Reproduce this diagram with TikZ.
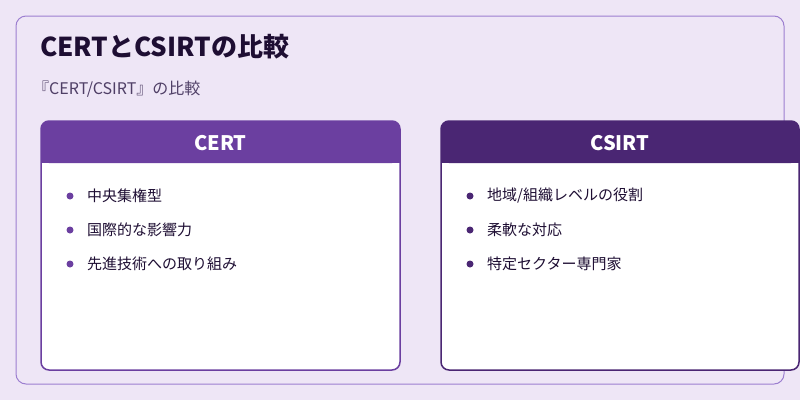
\documentclass[tikz,border=0pt]{standalone}
\usepackage{fontspec}
\setmainfont{Noto Sans CJK JP}
\usetikzlibrary{positioning}
\definecolor{bgpurple}{HTML}{EEE6F6}
\definecolor{framepurple}{HTML}{9C7FD0}
\definecolor{certpurple}{HTML}{6B3FA0}
\definecolor{csirtpurple}{HTML}{4A2673}
\definecolor{titleink}{HTML}{1E0E33}
\definecolor{subink}{HTML}{4F3F66}
\tikzset{
  card/.style={draw=#1, line width=1.5pt, fill=white, rounded corners=8pt},
  item/.style={anchor=west, font=\fontsize{15}{18}\selectfont, text=titleink, inner sep=0pt},
  dot/.style={circle, fill=#1, inner sep=0pt, minimum size=7pt}
}
\begin{document}
\begin{tikzpicture}[x=1pt,y=-1pt]
  \useasboundingbox (0,0) rectangle (800,400);
  \fill[bgpurple] (0,0) rectangle (800,400);
  \draw[framepurple, line width=1pt, rounded corners=10pt] (16,16) rectangle (784,384);
  \node (title) [anchor=west, inner sep=0pt, text=titleink, font=\bfseries\fontsize{26}{30}\selectfont] at (40,47) {CERTとCSIRTの比較};
  \node (subtitle) [anchor=west, inner sep=0pt, text=subink, font=\fontsize{16}{19}\selectfont] at (33,89) {『CERT/CSIRT』の比較};
  % left card
  \draw[card=certpurple] (41,121) rectangle (400,370);
  \fill[certpurple, rounded corners=8pt] (41,163) -- (41,121) -- (400,121) -- (400,163) -- cycle;
  \fill[certpurple] (41,150) rectangle (400,163);
  \node (cert) [text=white, font=\bfseries\fontsize{20}{24}\selectfont] at (220.5,143) {CERT};
  \foreach \y/\t [count=\i] in {196/中央集権型, 230/国際的な影響力, 264/先進技術への取り組み} {
    \node (certdot\i) [dot=certpurple] at (70,\y) {};
    \node (certitem\i) [item] at (87,\y) {\t};
  }
  % right card
  \draw[card=csirtpurple] (441,121) rectangle (799,370);
  \fill[csirtpurple, rounded corners=8pt] (441,163) -- (441,121) -- (799,121) -- (799,163) -- cycle;
  \fill[csirtpurple] (441,150) rectangle (799,163);
  \node (csirt) [text=white, font=\bfseries\fontsize{20}{24}\selectfont] at (620,143) {CSIRT};
  \foreach \y/\t [count=\i] in {196/{地域/組織レベルの役割}, 230/柔軟な対応, 264/特定セクター専門家} {
    \node (csirtdot\i) [dot=csirtpurple] at (470,\y) {};
    \node (csirtitem\i) [item] at (487,\y) {\t};
  }
\end{tikzpicture}
\end{document}
